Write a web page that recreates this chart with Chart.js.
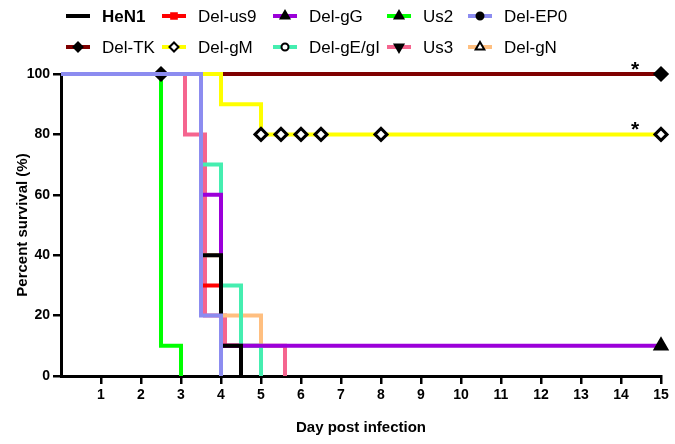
<!DOCTYPE html>
<html>
<head>
<meta charset="utf-8">
<script src="https://cdn.jsdelivr.net/npm/chart.js@4.4.1/dist/chart.umd.min.js"></script>
<style>
  html, body { margin: 0; padding: 0; background: #fff; }
  #wrap { width: 675px; height: 444px; }
</style>
</head>
<body>
<div id="wrap"><canvas id="km"></canvas></div>
<script>
const FONT = '"Liberation Sans", Arial, sans-serif';

// groups, in legend order
const names  = ['HeN1', 'Del-us9', 'Del-gG', 'Us2', 'Del-EP0', 'Del-TK', 'Del-gM', 'Del-gE/gI', 'Us3', 'Del-gN'];
const colors = ['#000000', '#ff0000', '#9b00d9', '#00ff00', '#8c8cf0', '#7f0000', '#ffff00', '#45eeb0', '#f5658f', '#ffbf80'];

// survival curves: day where the value changes, survival (%) from that day on
const hen1Days = [0, 3.5, 4, 4.5];        const hen1Surv = [100, 40, 10, 0];
const us9Days  = [0, 3.5, 4, 4.5];        const us9Surv  = [100, 30, 10, 0];
const gGDays   = [0, 3.5, 4, 15];         const gGSurv   = [100, 60, 10, 10];
const us2Days  = [0, 2.5, 3];             const us2Surv  = [100, 10, 0];
const ep0Days  = [0, 3.5, 4];             const ep0Surv  = [100, 20, 0];
const tkDays   = [0, 2.5, 15];            const tkSurv   = [100, 100, 100];
const gMDays   = [0, 4, 5, 5.5, 6, 6.5, 8, 15]; const gMSurv = [100, 90, 80, 80, 80, 80, 80, 80];
const gEDays   = [0, 3.5, 4, 4.5, 5];     const gESurv   = [100, 70, 30, 10, 0];
const us3Days  = [0, 3.1, 3.6, 4.1, 5.6]; const us3Surv  = [100, 80, 20, 10, 0];
const gNDays   = [0, 3.5, 4, 5];          const gNSurv   = [100, 40, 20, 0];

// censor marks drawn on the curves
const tkMarks = [2.5, 15];
const gMMarks = [5, 5.5, 6, 6.5, 8, 15];
const gGMarks = [15];

// significance stars: [day, survival]
const stars = [[14.35, 100], [14.35, 80]];

const allDays = [hen1Days, us9Days, gGDays, us2Days, ep0Days, tkDays, gMDays, gEDays, us3Days, gNDays];
const allSurv = [hen1Surv, us9Surv, gGSurv, us2Surv, ep0Surv, tkSurv, gMSurv, gESurv, us3Surv, gNSurv];
const allMarks = [[], [], gGMarks, [], [], tkMarks, gMMarks, [], [], []];

// marker look for each group (plot + legend)
const markStyle = [null, 'rect', 'triangle', 'triangle', 'circle', 'rectRot', 'rectRot', 'circle', 'triangle', 'triangle'];
const markFill  = ['#000', '#ff0000', '#000', '#000', '#000', '#000', '#fff', '#fff', '#000', '#fff'];
const markRot   = [0, 0, 0, 0, 0, 0, 0, 0, 180, 0];
const markSize  = [0, 5, 6, 6, 4.5, 5.5, 5.5, 4.5, 6, 6];
const drawOrder = [3, 7, 4, 11, 2, 10, 9, 5, 8, 6];

const datasets = names.map((n, i) => ({
  label: n,
  data: allDays[i].map((d, k) => ({x: d, y: allSurv[i][k]})),
  borderColor: colors[i],
  borderWidth: 4,
  stepped: true,
  fill: false,
  clip: false,
  order: drawOrder[i],
  pointStyle: markStyle[i] || 'circle',
  pointRadius: allDays[i].map(d => allMarks[i].includes(d) ? markSize[i] + 0.5 : 0),
  pointBackgroundColor: markFill[i],
  pointBorderColor: '#000',
  pointBorderWidth: 3,
  pointHoverRadius: 0
}));

const legendX = [66, 162, 273, 387, 468];
const legendY = [16, 47];

const kmLegend = {
  id: 'kmLegend',
  afterDraw(chart) {
    const ctx = chart.ctx;
    ctx.save();
    names.forEach((n, i) => {
      const x0 = legendX[i % 5];
      const y = legendY[Math.floor(i / 5)];
      ctx.strokeStyle = colors[i];
      ctx.lineWidth = 4;
      ctx.beginPath();
      ctx.moveTo(x0, y);
      ctx.lineTo(x0 + 24, y);
      ctx.stroke();
      if (markStyle[i]) {
        ctx.fillStyle = markFill[i];
        ctx.strokeStyle = i === 1 ? '#ff0000' : '#000';
        ctx.lineWidth = 2;
        Chart.helpers.drawPoint(ctx, {
          pointStyle: markStyle[i], radius: markSize[i] - 1, rotation: markRot[i], borderWidth: 2
        }, x0 + 12, y);
      }
      ctx.fillStyle = '#000';
      ctx.font = (i === 0 ? 'bold ' : '') + '17px ' + FONT;
      ctx.textBaseline = 'middle';
      ctx.textAlign = 'left';
      ctx.fillText(n, x0 + 36, y + 1);
    });
    // stars
    const xs = chart.scales.x, ys = chart.scales.y;
    ctx.font = 'bold 21px ' + FONT;
    ctx.textAlign = 'center';
    ctx.textBaseline = 'alphabetic';
    stars.forEach(s => {
      ctx.fillText('*', xs.getPixelForValue(s[0]), ys.getPixelForValue(s[1]) + 2);
    });
    ctx.restore();
  }
};

new Chart(document.getElementById('km').getContext('2d'), {
  type: 'line',
  data: { datasets: datasets },
  options: {
    responsive: true,
    maintainAspectRatio: false,
    animation: false,
    layout: { padding: { top: 74, right: 14, left: 0, bottom: 0 } },
    plugins: { legend: { display: false }, tooltip: { enabled: false } },
    scales: {
      x: {
        type: 'linear',
        min: 0,
        max: 15,
        afterFit: s => { s.height = 68; },
        ticks: {
          stepSize: 1,
          autoSkip: false,
          maxRotation: 0,
          padding: 3,
          color: '#000',
          font: { family: FONT, size: 14, weight: 'bold' },
          callback: v => v === 0 ? '' : v
        },
        grid: {
          drawOnChartArea: false,
          drawTicks: true,
          tickLength: 8,
          lineWidth: 2.5,
          color: c => (c.tick && c.tick.value === 0) ? 'rgba(0,0,0,0)' : '#000'
        },
        border: { color: '#000', width: 3 },
        title: {
          display: true,
          text: 'Day post infection',
          color: '#000',
          font: { family: FONT, size: 15, weight: 'bold' },
          padding: { top: 0, bottom: 7 }
        }
      },
      y: {
        min: 0,
        max: 100,
        afterFit: s => { s.width = 61; },
        ticks: {
          stepSize: 20,
          padding: 3,
          color: '#000',
          font: { family: FONT, size: 14, weight: 'bold' }
        },
        grid: {
          drawOnChartArea: false,
          drawTicks: true,
          tickLength: 8,
          lineWidth: 2.5,
          color: '#000'
        },
        border: { color: '#000', width: 3 },
        title: {
          display: true,
          text: 'Percent survival (%)',
          color: '#000',
          font: { family: FONT, size: 15, weight: 'bold' },
          padding: { top: 14, bottom: 0 }
        }
      }
    }
  },
  plugins: [kmLegend]
});
</script>
</body>
</html>
